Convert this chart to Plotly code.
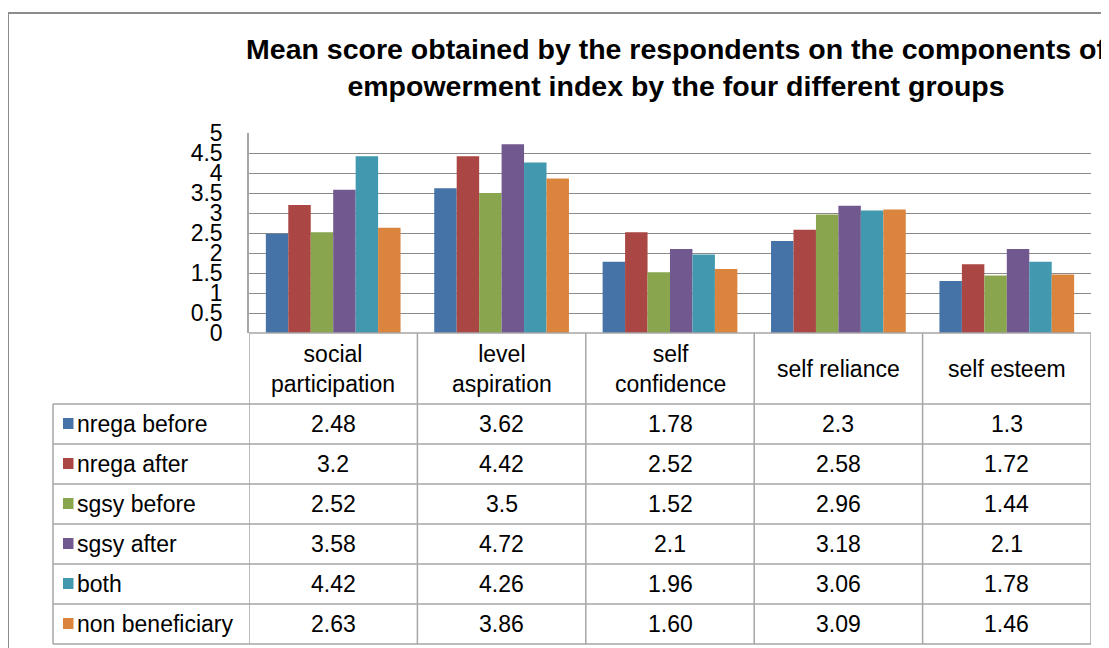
import plotly.graph_objects as go

W, H = 1109, 648

categories = ["social participation", "level aspiration", "self confidence", "self reliance", "self esteem"]
category_labels = ["social<br>participation", "level<br>aspiration", "self<br>confidence", "self reliance", "self esteem"]

series_names = ["nrega before", "nrega after", "sgsy before", "sgsy after", "both", "non beneficiary"]
nrega_before = [2.48, 3.62, 1.78, 2.3, 1.3]
nrega_after = [3.2, 4.42, 2.52, 2.58, 1.72]
sgsy_before = [2.52, 3.5, 1.52, 2.96, 1.44]
sgsy_after = [3.58, 4.72, 2.1, 3.18, 2.1]
both = [4.42, 4.26, 1.96, 3.06, 1.78]
non_beneficiary = [2.63, 3.86, 1.60, 3.09, 1.46]
series_values = [nrega_before, nrega_after, sgsy_before, sgsy_after, both, non_beneficiary]
# decimals shown in the data table for each series (None = as typed)
table_decimals = [None, None, None, None, None, 2]

colors = ["#4572A7", "#AA4643", "#89A54E", "#71588F", "#4198AF", "#DB843D"]

y_ticks = [0, 0.5, 1, 1.5, 2, 2.5, 3, 3.5, 4, 4.5, 5]

# page body has an 8px margin; compensate so positions match the target pixels
OFF = 8


def px(x):
    return (x - OFF) / W


def py(y):
    return 1 - (y - OFF) / H


FONT = "Liberation Sans, Arial, sans-serif"
GRID = "#8a8a8a"
TLINE = "#a6a6a6"
TSIZE = 23

# layout geometry (pixels)
PLOT_L, PLOT_R, PLOT_T, PLOT_B = 249, 1091, 133, 333
TABLE_L = 53
HEADER_B = 404
ROW_H = 40

fig = go.Figure()
for name, vals, col in zip(series_names, series_values, colors):
    fig.add_trace(go.Bar(x=categories, y=vals, name=name, marker_color=col,
                         marker_line_width=0, showlegend=False))

shapes = []
annotations = []

# outer chart frame
shapes.append(dict(type="rect", xref="paper", yref="paper", x0=px(8), x1=1.05,
                   y0=-0.05, y1=py(13), line=dict(color="#8c8c8c", width=2),
                   fillcolor="rgba(0,0,0,0)", layer="below"))

n_rows = len(series_names)
table_bottom = HEADER_B + ROW_H * n_rows

# horizontal table lines
shapes.append(dict(type="line", xref="paper", yref="paper", x0=px(PLOT_L), x1=px(PLOT_R),
                   y0=py(PLOT_B), y1=py(PLOT_B), line=dict(color=TLINE, width=1.5)))
for r in range(n_rows + 1):
    yy = HEADER_B + ROW_H * r
    shapes.append(dict(type="line", xref="paper", yref="paper", x0=px(TABLE_L), x1=px(PLOT_R),
                       y0=py(yy), y1=py(yy), line=dict(color=TLINE, width=1.5)))
# vertical table lines
shapes.append(dict(type="line", xref="paper", yref="paper", x0=px(TABLE_L), x1=px(TABLE_L),
                   y0=py(HEADER_B), y1=py(table_bottom), line=dict(color=TLINE, width=1.5)))
for i in range(len(categories) + 1):
    shapes.append(dict(type="line", xref="x", yref="paper", x0=i - 0.5, x1=i - 0.5,
                       y0=py(PLOT_B), y1=py(table_bottom), line=dict(color=TLINE, width=1.5)))

# category header
for cat, lab in zip(categories, category_labels):
    annotations.append(dict(xref="x", yref="paper", x=cat, y=py((PLOT_B + HEADER_B) / 2),
                            text=lab, showarrow=False, xanchor="center", yanchor="middle",
                            font=dict(family=FONT, size=TSIZE, color="#000")))

# rows
for r, (name, vals, col, dec) in enumerate(zip(series_names, series_values, colors, table_decimals)):
    yc = HEADER_B + ROW_H * r + ROW_H / 2
    shapes.append(dict(type="rect", xref="paper", yref="paper", x0=px(63), x1=px(73.5),
                       y0=py(yc - 6), y1=py(yc + 5), fillcolor=col, line=dict(width=0)))
    annotations.append(dict(xref="paper", yref="paper", x=px(75), y=py(yc), text=name,
                            showarrow=False, xanchor="left", yanchor="middle",
                            font=dict(family=FONT, size=TSIZE, color="#000")))
    for cat, v in zip(categories, vals):
        txt = f"{v:.{dec}f}" if dec is not None else f"{v:g}"
        annotations.append(dict(xref="x", yref="paper", x=cat, y=py(yc), text=txt,
                                showarrow=False, xanchor="center", yanchor="middle",
                                font=dict(family=FONT, size=TSIZE, color="#000")))

fig.update_layout(
    template="none",
    width=W, height=H,
    margin=dict(l=0, r=0, t=0, b=0, pad=0, autoexpand=False),
    paper_bgcolor="white", plot_bgcolor="white",
    barmode="group", bargap=0.2, bargroupgap=0,
    title=dict(text="Mean score obtained by the respondents on the components of<br>empowerment index by the four different groups",
               x=px(676), xanchor="center", y=py(59), yanchor="middle", automargin=False,
               font=dict(family=FONT, size=28.5, color="#000", weight="bold")),
    xaxis=dict(domain=[px(PLOT_L), px(PLOT_R)], range=[-0.5, len(categories) - 0.5],
               showticklabels=False, showgrid=False, zeroline=False, showline=False,
               automargin=False, fixedrange=True),
    yaxis=dict(domain=[py(PLOT_B), py(PLOT_T)], range=[0, 5], tickvals=y_ticks,
               ticktext=[f"{t:g}" for t in y_ticks], automargin=False,
               showgrid=True, gridcolor=GRID, gridwidth=1, zeroline=False,
               showline=True, linecolor=TLINE, linewidth=1.5, ticks="",
               ticklabelstandoff=20, tickfont=dict(family=FONT, size=23, color="#000")),
    shapes=shapes, annotations=annotations,
)

fig.write_html("out.html")
